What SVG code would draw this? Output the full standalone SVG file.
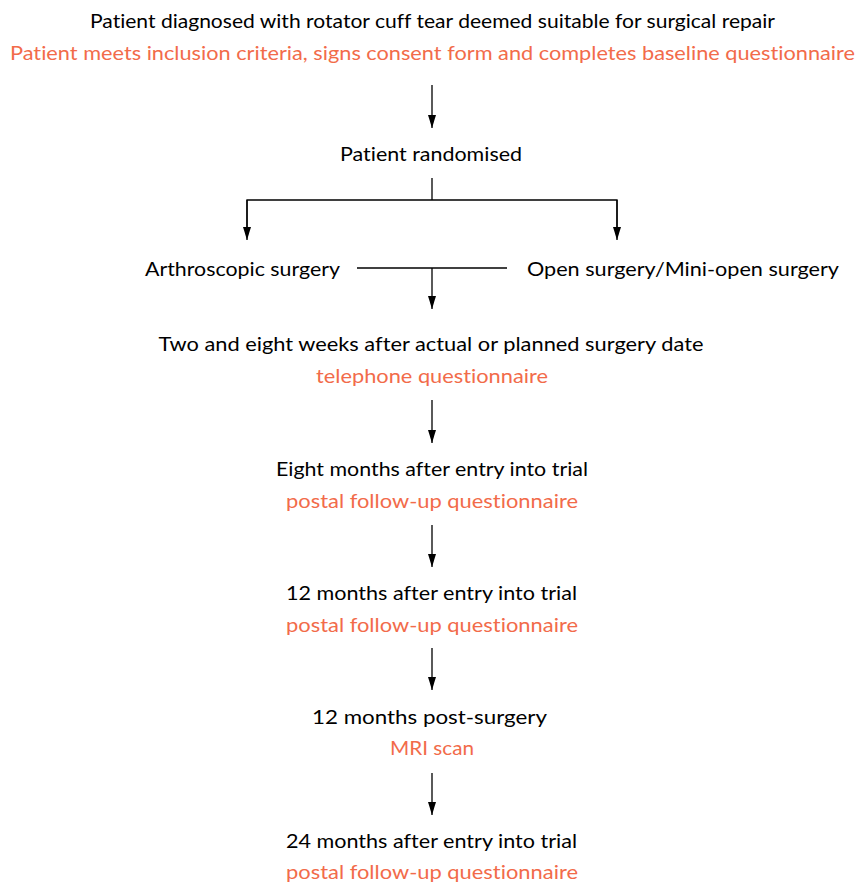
<svg xmlns="http://www.w3.org/2000/svg" width="857" height="884" viewBox="0 0 857 884">
<style>
text{font-family:Lato,"Liberation Sans",Arial,sans-serif;font-size:20px;fill:#000;font-variant-ligatures:none;font-feature-settings:"liga" 0,"dlig" 0}
.o{fill:#F26B4A}
.m{text-anchor:middle}
.c{stroke:#000;stroke-width:1.3;fill:none}
</style>
<defs>
<marker id="a" markerUnits="userSpaceOnUse" markerWidth="14" markerHeight="10" refX="13" refY="4.5" orient="auto" viewBox="0 0 14 9">
<path d="M0,0.5 L13,4.5 L0,8.5 Z" fill="#000"/>
</marker>
</defs>
<rect width="857" height="884" fill="#fff"/>
<g id="connectors">
<line class="c" x1="432" y1="85" x2="432" y2="128" marker-end="url(#a)"/>
<polyline class="c" points="432,178 432,200"/>
<polyline class="c" points="247,230 247,200 617,200 617,230"/>
<line class="c" x1="247" y1="200" x2="247" y2="240" marker-end="url(#a)"/>
<line class="c" x1="617" y1="200" x2="617" y2="240" marker-end="url(#a)"/>
<line class="c" x1="357" y1="268" x2="507" y2="268"/>
<line class="c" x1="432" y1="268" x2="432" y2="309" marker-end="url(#a)"/>
<line class="c" x1="432" y1="400" x2="432" y2="443" marker-end="url(#a)"/>
<line class="c" x1="432" y1="525" x2="432" y2="567" marker-end="url(#a)"/>
<line class="c" x1="432" y1="648" x2="432" y2="690" marker-end="url(#a)"/>
<line class="c" x1="432" y1="773" x2="432" y2="815" marker-end="url(#a)"/>
</g>
<g id="n1">
<text class="m" x="432.5" y="28" textLength="685" lengthAdjust="spacingAndGlyphs">Patient diagnosed with rotator cuff tear deemed suitable for surgical repair</text>
<text class="m o" x="432.5" y="60" textLength="845" lengthAdjust="spacingAndGlyphs">Patient meets inclusion criteria, signs consent form and completes baseline questionnaire</text>
</g>
<g id="n2">
<text class="m" x="431" y="161" textLength="182" lengthAdjust="spacingAndGlyphs">Patient randomised</text>
</g>
<g id="n3">
<text x="145" y="276" textLength="195" lengthAdjust="spacingAndGlyphs">Arthroscopic surgery</text>
</g>
<g id="n4">
<text x="527" y="276" textLength="312" lengthAdjust="spacingAndGlyphs">Open surgery/Mini-open surgery</text>
</g>
<g id="n5">
<text class="m" x="431" y="351" textLength="545" lengthAdjust="spacingAndGlyphs">Two and eight weeks after actual or planned surgery date</text>
<text class="m o" x="432" y="383" textLength="232" lengthAdjust="spacingAndGlyphs">telephone questionnaire</text>
</g>
<g id="n6">
<text class="m" x="432" y="475.5" textLength="312" lengthAdjust="spacingAndGlyphs">Eight months after entry into trial</text>
<text class="m o" x="432" y="507.5" textLength="292" lengthAdjust="spacingAndGlyphs">postal follow-up questionnaire</text>
</g>
<g id="n7">
<text class="m" x="431.5" y="600" textLength="291" lengthAdjust="spacingAndGlyphs">12 months after entry into trial</text>
<text class="m o" x="432" y="632" textLength="292" lengthAdjust="spacingAndGlyphs">postal follow-up questionnaire</text>
</g>
<g id="n8">
<text class="m" x="429.5" y="724" textLength="235" lengthAdjust="spacingAndGlyphs">12 months post-surgery</text>
<text class="m o" x="432" y="755" textLength="84" lengthAdjust="spacingAndGlyphs">MRI scan</text>
</g>
<g id="n9">
<text class="m" x="431.5" y="848" textLength="291" lengthAdjust="spacingAndGlyphs">24 months after entry into trial</text>
<text class="m o" x="432" y="879" textLength="292" lengthAdjust="spacingAndGlyphs">postal follow-up questionnaire</text>
</g>
</svg>
